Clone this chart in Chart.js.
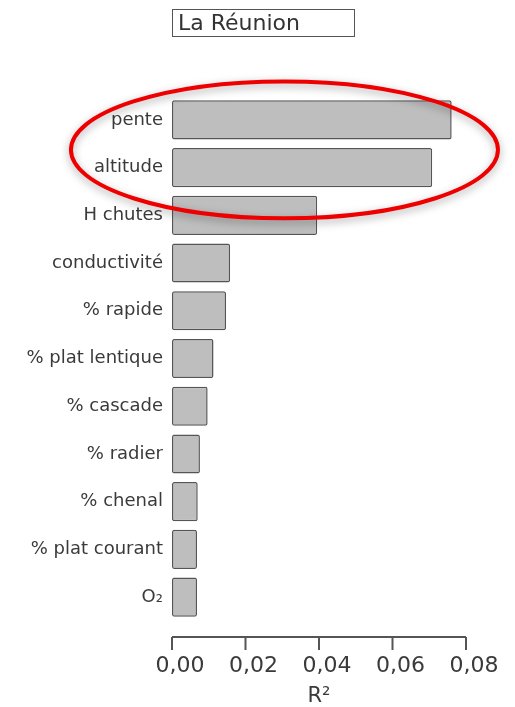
<!DOCTYPE html>
<html>
<head>
<meta charset="utf-8">
<script src="https://cdn.jsdelivr.net/npm/chart.js@4.4.1/dist/chart.umd.min.js"></script>
<style>
  html, body { margin: 0; padding: 0; background: #fff; }
  #cadre { position: relative; width: 515px; height: 707px; }
  #grafico { position: absolute; left: 0; top: 0; }
  #titre {
    position: absolute; left: 172px; top: 9px;
    width: 176px; height: 26px; padding-left: 5px;
    border: 1.5px solid #555;
    font: 22px "DejaVu Sans", sans-serif; line-height: 26px; color: #333;
  }
</style>
</head>
<body>
<div id="cadre">
  <canvas id="grafico" width="515" height="707"></canvas>
  <div id="titre">La Réunion</div>
</div>
<script>
const variables = [
  "pente", "altitude", "H chutes", "conductivité", "% rapide",
  "% plat lentique", "% cascade", "% radier", "% chenal",
  "% plat courant", "O₂"
];
const valeursR2 = [
  0.0761, 0.0708, 0.0395, 0.0158, 0.0147,
  0.0113, 0.0097, 0.0076, 0.0070, 0.0068, 0.0068
];
const graduations = [0, 0.02, 0.04, 0.06, 0.08];

// ellipse rouge autour de pente / altitude (en unités des axes)
const ellipse = { xCentre: 0.0306, xRayon: 0.0581, yCentre: 0.628, yRayon: 1.434 };

Chart.defaults.font.family = '"DejaVu Sans", sans-serif';
Chart.defaults.color = "#3a3a3a";

// axe des x détaché des barres, avec les graduations vers le bas
const axeDecale = {
  id: "axeDecale",
  afterDraw(chart) {
    const { ctx, chartArea, scales: { x } } = chart;
    const yLigne = chartArea.bottom + 16;
    ctx.save();
    ctx.strokeStyle = "#555";
    ctx.lineWidth = 2;
    ctx.beginPath();
    ctx.moveTo(x.getPixelForValue(x.min), yLigne);
    ctx.lineTo(x.getPixelForValue(x.max), yLigne);
    x.ticks.forEach((t) => {
      const px = x.getPixelForValue(t.value);
      ctx.moveTo(px, yLigne);
      ctx.lineTo(px, yLigne + 13);
    });
    ctx.stroke();
    ctx.restore();
  },
};

const entourage = {
  id: "entourage",
  afterDraw(chart) {
    const { ctx, scales: { x, y } } = chart;
    const cx = x.getPixelForValue(ellipse.xCentre);
    const cy = y.getPixelForValue(ellipse.yCentre);
    const rx = x.getPixelForValue(ellipse.xCentre + ellipse.xRayon) - cx;
    const ry = y.getPixelForValue(ellipse.yCentre + ellipse.yRayon) - cy;
    ctx.save();
    ctx.shadowColor = "rgba(0,0,0,0.35)";
    ctx.shadowBlur = 8;
    ctx.shadowOffsetY = 3;
    ctx.strokeStyle = "#ee0000";
    ctx.lineWidth = 4;
    ctx.beginPath();
    ctx.ellipse(cx, cy, rx, ry, 0, 0, Math.PI * 2);
    ctx.stroke();
    ctx.restore();
  },
};

new Chart(document.getElementById("grafico"), {
  type: "bar",
  data: {
    labels: variables,
    datasets: [
      {
        label: "R²",
        data: valeursR2,
        backgroundColor: "#bebebe",
        borderColor: "#555",
        borderWidth: 1.5,
        borderRadius: 2,
        borderSkipped: false,
        categoryPercentage: 1,
        barPercentage: 0.82,
      },
    ],
  },
  options: {
    indexAxis: "y",
    responsive: false,
    animation: false,
    devicePixelRatio: 1,
    layout: { padding: { top: 96, right: 49, bottom: 0, left: 0 } },
    plugins: { legend: { display: false }, tooltip: { enabled: false } },
    scales: {
      x: {
        min: 0,
        max: 0.08,
        afterBuildTicks: (s) => { s.ticks = graduations.map((v) => ({ value: v })); },
        afterFit: (s) => {
          s.height = 86;
          s.paddingLeft = 0;
          s.paddingRight = 0;
        },
        grid: { display: false, drawTicks: false },
        border: { display: false },
        ticks: {
          padding: 32,
          labelOffset: 8,
          font: { size: 22 },
          callback: (v) => v.toFixed(2).replace(".", ","),
        },
        title: {
          display: true,
          text: "R²",
          font: { size: 21, lineHeight: 1 },
          padding: 0,
        },
      },
      y: {
        afterFit: (s) => { s.width = 172; },
        grid: { display: false, drawTicks: false },
        border: { display: false },
        ticks: { padding: 9, font: { size: 18 } },
      },
    },
  },
  plugins: [axeDecale, entourage],
});
</script>
</body>
</html>
